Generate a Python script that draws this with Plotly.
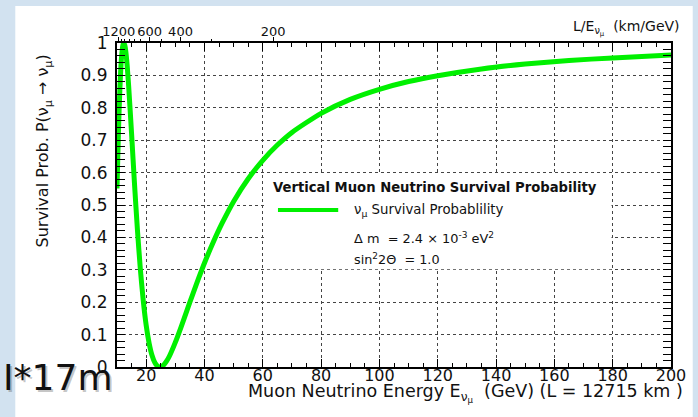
import plotly.graph_objects as go

# Vertical muon-neutrino survival probability vs. energy (L = 12715 km)
energy_gev = [10, 10.5, 11, 11.5, 12, 12.3, 12.7, 13, 13.5, 14, 15, 16, 17, 18, 19,
              20, 21, 22, 23, 24, 24.7, 25.5, 26, 27, 28, 30, 32, 34, 36, 38, 40,
              43, 46, 50, 55, 60, 65, 70, 80, 90, 100, 110, 120, 135, 150, 165,
              180, 200]
survival_prob = [0.551, 0.727, 0.861, 0.949, 0.992, 1.000, 0.992, 0.975, 0.928,
                 0.867, 0.720, 0.566, 0.424, 0.303, 0.205, 0.129, 0.074, 0.036,
                 0.013, 0.002, 0.000, 0.003, 0.006, 0.018, 0.034, 0.076, 0.124,
                 0.175, 0.225, 0.274, 0.321, 0.385, 0.443, 0.511, 0.581, 0.638,
                 0.685, 0.724, 0.783, 0.826, 0.857, 0.881, 0.899, 0.920, 0.935,
                 0.946, 0.954, 0.963]

baseline_km = 12715
energy_ticks = [20, 40, 60, 80, 100, 120, 140, 160, 180, 200]
prob_ticks = [0, 0.1, 0.2, 0.3, 0.4, 0.5, 0.6, 0.7, 0.8, 0.9, 1]
prob_tick_text = ["0", "0.1", "0.2", "0.3", "0.4", "0.5", "0.6", "0.7", "0.8", "0.9", "1"]
l_over_e_major = [1200, 600, 400, 200]
l_over_e_minor = [1100, 1000, 900, 800, 700, 500, 300]

FONT = "DejaVu Sans"
GREEN = "#00f000"
W, H = 698, 417
L_M, R_M, T_M, B_M = 117, 20, 43, 50
PW, PH = W - L_M - R_M, H - T_M - B_M


def px(x):
    return (x - L_M) / PW


def py(y):
    return (H - B_M - y) / PH


fig = go.Figure()

fig.add_trace(go.Scatter(
    x=energy_gev, y=survival_prob, mode="lines",
    line=dict(color=GREEN, width=5, shape="spline", smoothing=0.6),
    showlegend=False, hoverinfo="skip",
))
# carrier trace for the L/E axis on top
fig.add_trace(go.Scatter(
    x=[energy_gev[0], energy_gev[-1]], y=[0.5, 0.5], xaxis="x2", mode="lines",
    line=dict(width=0), showlegend=False, hoverinfo="skip",
))

tick_font = dict(family=FONT, size=16, color="#111")

fig.update_layout(
    width=W, height=H,
    margin=dict(l=L_M, r=R_M, t=T_M, b=B_M),
    paper_bgcolor="#d2e2f0",
    plot_bgcolor="white",
    xaxis=dict(
        range=[10, 200], tickvals=energy_ticks, ticks="inside", ticklen=8,
        tickwidth=1, tickcolor="black", mirror="allticks", showline=True,
        linecolor="black", linewidth=2, showgrid=True, gridcolor="#444",
        griddash="dot", gridwidth=1, zeroline=False, tickfont=tick_font,
        tickangle=0, ticklabelstandoff=-7,
        minor=dict(dtick=5, tick0=0, ticks="inside", ticklen=4,
                   tickcolor="black", showgrid=False),
    ),
    xaxis2=dict(
        range=[10, 200], overlaying="x", side="top", anchor="y",
        tickvals=[baseline_km / v for v in l_over_e_major],
        ticktext=[str(v) for v in l_over_e_major],
        ticks="outside", ticklen=5, tickcolor="black", showgrid=False,
        showline=False, zeroline=False, tickangle=0,
        tickfont=dict(family=FONT, size=13, color="#111"),
        ticklabelstandoff=-4,
        minor=dict(tickvals=[baseline_km / v for v in l_over_e_minor],
                   ticks="outside", ticklen=3, tickcolor="black", showgrid=False),
    ),
    yaxis=dict(
        range=[0, 1], tickvals=prob_ticks, ticktext=prob_tick_text,
        ticks="inside", ticklen=8, tickcolor="black", mirror="allticks",
        showline=True, linecolor="black", linewidth=2, showgrid=True,
        gridcolor="#444", griddash="dot", gridwidth=1, zeroline=False,
        tickfont=dict(family=FONT, size=17, color="#111"),
        ticklabelstandoff=4,
        minor=dict(dtick=0.02, tick0=0, ticks="inside", ticklen=4,
                   tickcolor="black", showgrid=False),
    ),
    showlegend=False,
)

# white slide panel and the white legend box over the grid
fig.add_shape(type="rect", xref="paper", yref="paper",
              x0=px(14), x1=px(W + 2), y0=py(6), y1=py(H + 2),
              fillcolor="white", line=dict(width=0), layer="below")
fig.add_shape(type="rect", xref="x", yref="y", x0=60.4, x1=179.6, y0=0.302, y1=0.598,
              fillcolor="white", line=dict(width=0), layer="between")
fig.add_shape(type="line", xref="paper", yref="paper",
              x0=px(280), x1=px(341), y0=py(210), y1=py(210),
              line=dict(color=GREEN, width=4))


def note(text, x, y, size, xanchor="left", yanchor="middle", **kw):
    fig.add_annotation(text=text, xref="paper", yref="paper", x=px(x), y=py(y),
                       xanchor=xanchor, yanchor=yanchor, showarrow=False,
                       font=dict(family=kw.pop("family", FONT), size=size,
                                 color=kw.pop("color", "#111")), **kw)


note("Survival Prob. P(ν<sub>μ</sub> → ν<sub>μ</sub>)", 43, 52, 16,
     xanchor="center", yanchor="top", textangle=-90)
note("Muon Neutrino Energy E<sub>ν<sub>μ</sub></sub>  (GeV) (L = 12715 km )",
     692, 379, 17.5, xanchor="right", yanchor="top")
note("L/E<sub>ν<sub>μ</sub></sub>  (km/GeV)", 689, 28, 14, xanchor="right")

note("<b>Vertical Muon Neutrino Survival Probability</b>", 273, 187, 13.2)
note("ν<sub>μ</sub> Survival Probablility", 355, 210, 13.3)
note("Δ m  = 2.4 × 10<sup>-3</sup> eV<sup>2</sup>", 355, 238, 12.9)
note("sin<sup>2</sup>2Θ  = 1.0", 355, 259, 12.8)

note("I*17m", 2, 379, 36, color="rgba(90,90,90,0.35)")
note("I*17m", 0, 377, 36, color="#111")

fig.write_html("out.html")
